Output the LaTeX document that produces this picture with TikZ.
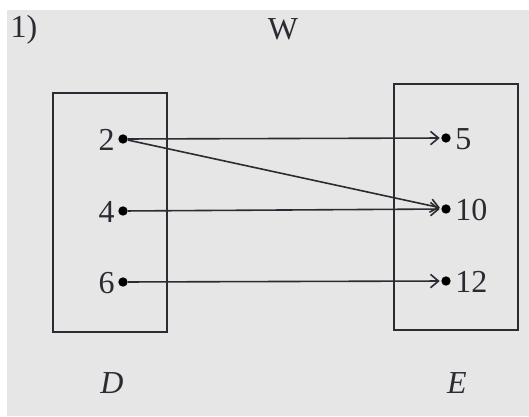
\documentclass[tikz,border=0pt]{standalone}
\usepackage{fontspec}
\setmainfont{Liberation Serif}
\usetikzlibrary{arrows.meta}
\definecolor{bg}{HTML}{E6E6E6}
\definecolor{ink}{HTML}{2B2B33}
\begin{document}
\begin{tikzpicture}[x=0.75pt,y=-0.75pt,
  lbl/.style={font=\fontsize{24}{28}\selectfont, text=ink, inner sep=0pt},
  dot/.style={circle, fill=black, inner sep=0pt, minimum size=7pt},
  setbox/.style={draw=ink, line width=1.4pt},
  arr/.style={draw=ink, line width=1.2pt, -{Straight Barb[length=6pt,width=10pt,line width=1.2pt]}, shorten >=1pt}]
\useasboundingbox (0,0) rectangle (529,417);
\fill[white] (0,0) rectangle (529,417);
\fill[bg] (7,10) rectangle (529,416);
\node[lbl] (num) at (24,30) {1)};
\node[lbl] (W) at (283,29) {W};
\draw[setbox] (53,93) rectangle (167,332);
\draw[setbox] (394,84) rectangle (518,330);
\node[dot] (d2) at (123,139) {};
\node[dot] (d4) at (123,211) {};
\node[dot] (d6) at (123,282) {};
\node[lbl, anchor=east] (l2) at (115,140) {2};
\node[lbl, anchor=east] (l4) at (115,212) {4};
\node[lbl, anchor=east] (l6) at (115,283) {6};
\node[dot] (e5) at (446,138) {};
\node[dot] (e10) at (446,209) {};
\node[dot] (e12) at (446,281) {};
\node[lbl, anchor=west] (l5) at (455,139) {5};
\node[lbl, anchor=west] (l10) at (455,210) {10};
\node[lbl, anchor=west] (l12) at (455,282) {12};
\draw[arr] (d2) -- (e5);
\draw[arr] (d2) -- (e10);
\draw[arr] (d4) -- (e10);
\draw[arr] (d6) -- (e12);
\node[lbl] (D) at (112,383) {\itshape D};
\node[lbl] (E) at (457,383) {\itshape E};
\end{tikzpicture}
\end{document}
